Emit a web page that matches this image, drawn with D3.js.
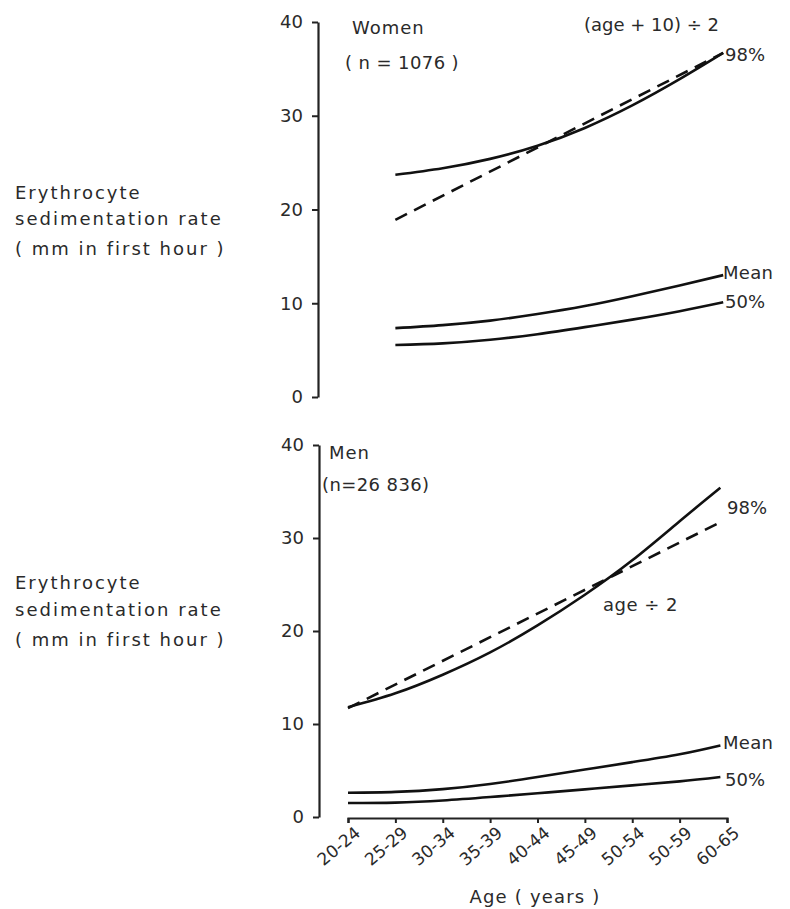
<!DOCTYPE html>
<html>
<head>
<meta charset="utf-8">
<script src="https://cdn.jsdelivr.net/npm/d3@7"></script>
<style>
  body { margin: 0; background: #fff; }
  text { font-family: "DejaVu Sans", sans-serif; fill: #2a2a2a; }
</style>
</head>
<body>
<svg id="viz"></svg>
<script>
var width = 790;
var height = 909;

// age groups, ticks placed at group midpoints
var ageGroups = ["20-24", "25-29", "30-34", "35-39", "40-44", "45-49", "50-54", "50-59", "60-65"];
var ageTicks = [22, 27, 32, 37, 42, 47, 52, 57, 62];
var yTicks = [0, 10, 20, 30, 40];

// women (n = 1076)
var womenAges = [27, 32, 37, 42, 47, 52, 57, 61.6];
var women98 = [23.7, 24.4, 25.4, 26.8, 28.7, 31.1, 33.9, 36.7];
var womenMean = [7.35, 7.67, 8.15, 8.85, 9.7, 10.75, 11.9, 13.0];
var women50 = [5.55, 5.72, 6.1, 6.7, 7.45, 8.25, 9.15, 10.1];
var womenRuleAges = [27, 61.6];
var womenRule = [18.9, 36.7];   // (age + 10) / 2

// men (n = 26 836)
var menAges = [22, 27, 32, 37, 42, 47, 52, 57, 61.3];
var men98 = [11.8, 13.3, 15.3, 17.7, 20.6, 23.9, 27.6, 31.8, 35.4];
var menMean = [2.6, 2.7, 3.0, 3.55, 4.3, 5.1, 5.9, 6.75, 7.7];
var men50 = [1.5, 1.55, 1.78, 2.15, 2.55, 2.97, 3.4, 3.83, 4.3];
var menRuleAges = [22, 61.3];
var menRule = [11.7, 31.7];     // age / 2

var svg = d3.select("#viz").attr("width", width).attr("height", height);

var x = d3.scaleLinear().domain([22, 62]).range([348, 727]);

function pairs(xs, ys) {
    return xs.map(function (a, i) { return [a, ys[i]]; });
}

function panel(cfg) {
    var y = d3.scaleLinear().domain([0, 40]).range(cfg.range);
    var g = svg.append("g");

    var yAxis = g.append("g")
        .attr("transform", "translate(" + cfg.axisX + ",0)")
        .call(d3.axisLeft(y).tickValues(yTicks).tickSize(6).tickSizeOuter(0).tickPadding(9));
    yAxis.select(".domain").attr("stroke", "#222").attr("stroke-width", 2.2);
    yAxis.selectAll(".tick line").attr("stroke", "#222").attr("stroke-width", 2);
    yAxis.selectAll(".tick text")
        .attr("font-size", 18)
        .attr("font-family", "DejaVu Sans, sans-serif")
        .attr("fill", "#333");

    var line = d3.line()
        .x(function (d) { return x(d[0]); })
        .y(function (d) { return y(d[1]); })
        .curve(d3.curveNatural);

    cfg.curves.forEach(function (c) {
        g.append("path")
            .datum(pairs(c.ages, c.values))
            .attr("fill", "none")
            .attr("stroke", "#111")
            .attr("stroke-width", 2.6)
            .attr("stroke-dasharray", c.dashed ? "13,8" : null)
            .attr("d", line);
    });

    cfg.labels.forEach(function (l) {
        g.append("text")
            .attr("x", l.x)
            .attr("y", l.y)
            .attr("dy", "0.35em")
            .attr("font-size", 18)
            .attr("letter-spacing", l.ls === undefined ? 1 : l.ls)
            .text(l.text);
    });

    // y axis title, three lines
    var title = ["Erythrocyte", "sedimentation rate", "( mm in first hour )"];
    g.append("text")
        .attr("x", 15)
        .attr("y", cfg.titleY)
        .attr("font-size", 18)
        .attr("letter-spacing", 2)
        .selectAll("tspan")
        .data(title)
        .enter().append("tspan")
        .attr("x", 15)
        .attr("dy", function (d, i) { return i === 0 ? 0 : cfg.titleGap[i - 1]; })
        .text(function (d) { return d; });

    return y;
}

panel({
    range: [397, 22],
    axisX: 318,
    titleY: 199,
    titleGap: [26, 30],
    curves: [
        { ages: womenAges, values: women98 },
        { ages: womenAges, values: womenMean },
        { ages: womenAges, values: women50 },
        { ages: womenRuleAges, values: womenRule, dashed: true }
    ],
    labels: [
        { text: "Women", x: 352, y: 28 },
        { text: "( n = 1076 )", x: 345, y: 63, ls: 0.4 },
        { text: "(age + 10) ÷ 2", x: 584, y: 25, ls: 0 },
        { text: "98%", x: 725, y: 55, ls: 0 },
        { text: "Mean", x: 723, y: 273, ls: 0.3 },
        { text: "50%", x: 725, y: 302, ls: 0 }
    ]
});

panel({
    range: [817, 445],
    axisX: 319,
    titleY: 589,
    titleGap: [27, 30],
    curves: [
        { ages: menAges, values: men98 },
        { ages: menAges, values: menMean },
        { ages: menAges, values: men50 },
        { ages: menRuleAges, values: menRule, dashed: true }
    ],
    labels: [
        { text: "Men", x: 329, y: 453 },
        { text: "(n=26 836)", x: 322, y: 485, ls: 0.4 },
        { text: "98%", x: 727, y: 508, ls: 0 },
        { text: "age ÷ 2", x: 603, y: 605, ls: 0.5 },
        { text: "Mean", x: 723, y: 743, ls: 0.3 },
        { text: "50%", x: 725, y: 780, ls: 0 }
    ]
});

// x axis under the men panel
var xAxis = svg.append("g")
    .attr("transform", "translate(0,818)")
    .call(d3.axisBottom(x).tickValues(ageTicks)
        .tickFormat(function (d, i) { return ageGroups[i]; })
        .tickSize(5).tickSizeOuter(5));
xAxis.select(".domain").attr("stroke", "#222").attr("stroke-width", 2.2);
xAxis.selectAll(".tick line").attr("stroke", "#222").attr("stroke-width", 2);
xAxis.selectAll(".tick text")
    .attr("font-size", 17)
    .attr("font-family", "DejaVu Sans, sans-serif")
    .attr("fill", "#333")
    .attr("text-anchor", "end")
    .attr("dy", "0.35em")
    .attr("transform", "translate(4,6) rotate(-40)");

svg.append("text")
    .attr("x", 535)
    .attr("y", 897)
    .attr("dy", "0.35em")
    .attr("text-anchor", "middle")
    .attr("font-size", 18)
    .attr("letter-spacing", 1.2)
    .text("Age ( years )");
</script>
</body>
</html>
